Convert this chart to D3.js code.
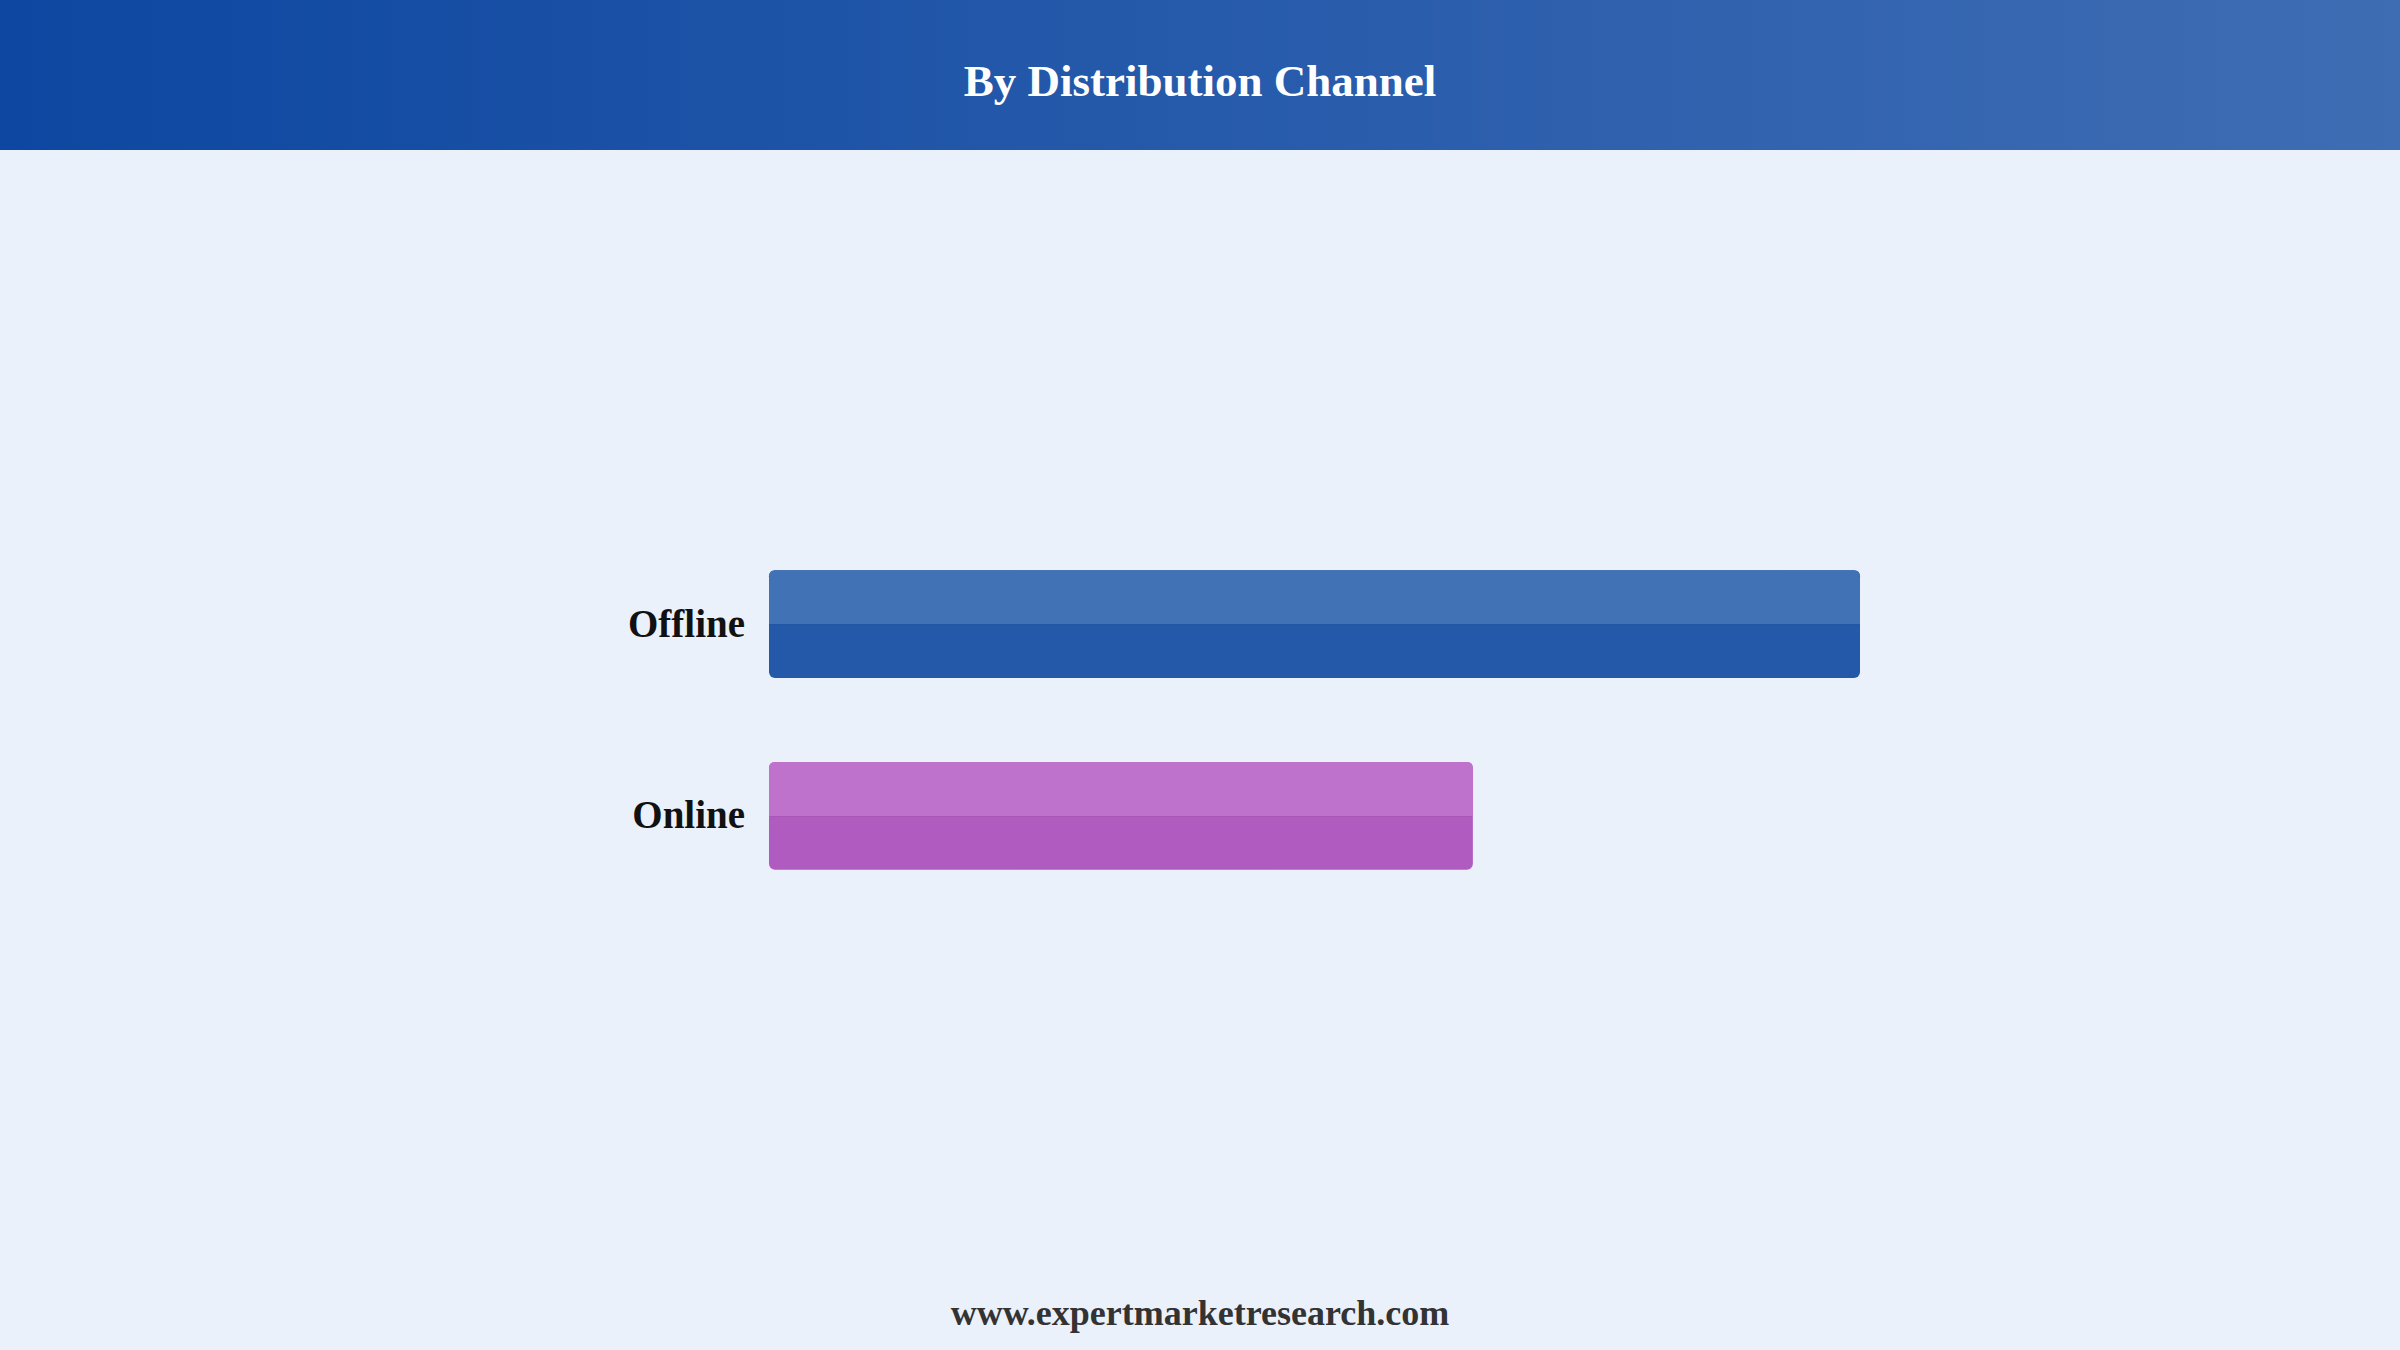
<!DOCTYPE html>
<html lang="en">
<head>
  <meta charset="utf-8">
  <title>By Distribution Channel</title>
  <script src="https://d3js.org/d3.v7.min.js"></script>
  <style type="text/css">
    html, body { margin: 0; padding: 0; background: #eaf1fb; }
    svg { display: block; }
  </style>
</head>
<body>
  <div id="chart"></div>
  <script type="text/javascript">
    const channels = ["Offline", "Online"];
    const shares = [62, 40];
    const topColors = ["#4272b6", "#bf72cb"];
    const bottomColors = ["#2459aa", "#b05bc0"];

    const w = 2400;
    const h = 1350;
    const headerH = 150;
    const font = "'Liberation Serif', 'Times New Roman', serif";

    const data = channels.map((c, i) => ({ name: c, value: shares[i], top: topColors[i], bottom: bottomColors[i] }));

    const svg = d3.select("#chart")
      .append("svg")
      .attr("width", w)
      .attr("height", h);

    const defs = svg.append("defs");
    const grad = defs.append("linearGradient")
      .attr("id", "headerGrad")
      .attr("x1", "0%").attr("x2", "100%")
      .attr("y1", "0%").attr("y2", "0%");
    grad.append("stop").attr("offset", "0%").attr("stop-color", "#0d47a1");
    grad.append("stop").attr("offset", "100%").attr("stop-color", "#3f6db4");

    svg.append("rect")
      .attr("width", w)
      .attr("height", h)
      .attr("fill", "#eaf1fb");

    svg.append("rect")
      .attr("width", w)
      .attr("height", headerH)
      .attr("fill", "url(#headerGrad)");

    svg.append("text")
      .attr("x", w / 2)
      .attr("y", 96)
      .attr("text-anchor", "middle")
      .style("font-family", font)
      .style("font-weight", "bold")
      .style("font-size", "45px")
      .style("fill", "#ffffff")
      .text("By Distribution Channel");

    const xScale = d3.scaleLinear()
      .domain([0, d3.max(shares)])
      .range([769, 1860]);

    const yScale = d3.scaleBand()
      .domain(channels)
      .range([528, 912])
      .paddingInner(0.4375)
      .paddingOuter(0.22);

    const bars = svg.selectAll("g.bar")
      .data(data)
      .enter()
      .append("g")
      .attr("class", "bar")
      .attr("transform", d => `translate(0,${yScale(d.name)})`);

    const bh = yScale.bandwidth();

    // lower (darker) part as the full rounded bar
    bars.append("rect")
      .attr("x", xScale(0))
      .attr("width", d => xScale(d.value) - xScale(0))
      .attr("height", bh)
      .attr("rx", 6)
      .attr("fill", d => d.bottom);

    // upper lighter half
    bars.append("path")
      .attr("d", d => {
        const x0 = xScale(0), x1 = xScale(d.value), r = 6, hh = bh / 2;
        return `M${x0},${hh} L${x0},${r} Q${x0},0 ${x0 + r},0 L${x1 - r},0 Q${x1},0 ${x1},${r} L${x1},${hh} Z`;
      })
      .attr("fill", d => d.top);

    bars.append("line")
      .attr("x1", xScale(0) + 1)
      .attr("x2", d => xScale(d.value) - 1)
      .attr("y1", bh / 2 + 0.5)
      .attr("y2", bh / 2 + 0.5)
      .attr("stroke", "#000")
      .attr("stroke-opacity", 0.05)
      .attr("stroke-width", 1);

    const leftAxis = d3.axisLeft(yScale).tickSize(0).tickPadding(24);
    const axisG = svg.append("g")
      .attr("transform", `translate(${xScale(0)},0)`)
      .call(leftAxis);
    axisG.select(".domain").remove();
    axisG.selectAll("text")
      .style("font-family", font)
      .style("font-weight", "bold")
      .style("font-size", "39px")
      .style("fill", "#111111");

    svg.append("text")
      .attr("x", w / 2)
      .attr("y", 1325)
      .attr("text-anchor", "middle")
      .style("font-family", font)
      .style("font-weight", "bold")
      .style("font-size", "36px")
      .style("fill", "#333333")
      .text("www.expertmarketresearch.com");
  </script>
</body>
</html>
